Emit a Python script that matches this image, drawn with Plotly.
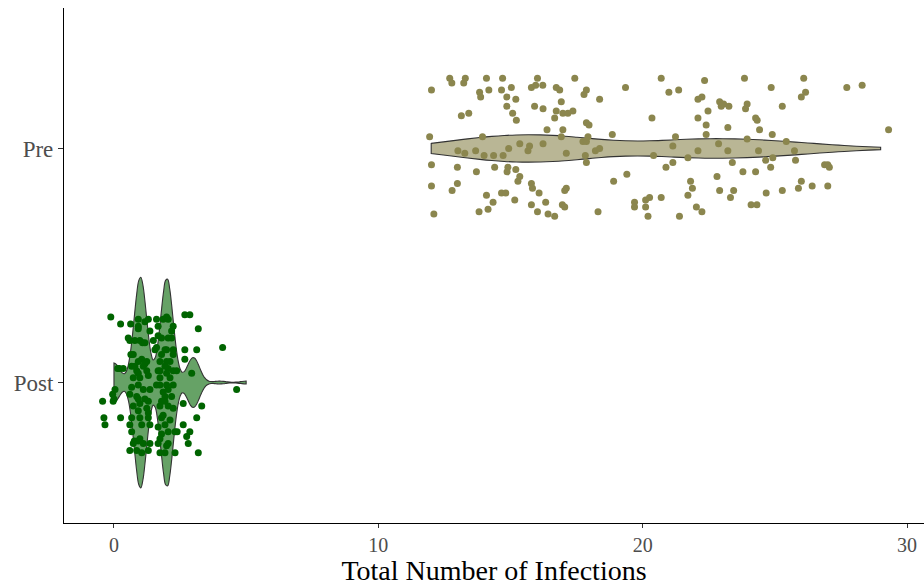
import numpy as np
import plotly.graph_objects as go

# ---------------- data ----------------
group_names = ["Post", "Pre"]
group_positions = [1, 2]

# Pre: jittered point positions (value axis) and vertical jitter offsets
pre_x = [12.01, 12.70, 12.78, 13.29, 13.23, 14.09, 14.70, 13.83, 13.87, 14.18, 14.66, 15.03, 14.86, 15.20,
         14.86, 16.02, 15.79, 15.95, 16.22, 15.91, 16.23, 13.14, 13.42, 15.08, 15.22, 11.94, 13.94, 13.01,
         13.27, 13.68, 14.00, 14.36, 14.72, 14.93, 15.35, 15.66, 15.72, 12.01, 12.99, 13.71, 14.40, 14.90,
         14.87, 15.20, 15.35, 15.28, 12.01, 12.99, 12.79, 14.09, 14.66, 14.82, 15.79, 15.83, 16.08, 15.16,
         14.34, 13.81, 14.15, 12.10, 15.79, 16.02,
         17.43, 16.73, 16.86, 17.87, 17.78, 18.37, 19.35, 20.70, 16.92, 16.73, 16.98, 17.17, 17.36, 16.67,
         17.87, 17.97, 20.35, 16.38, 16.98, 16.92, 18.85, 16.23, 17.74, 17.87, 17.93, 17.11, 17.83, 18.21,
         18.37, 17.87, 20.41, 19.40, 18.90, 17.11, 17.05, 16.33, 16.96, 17.05, 16.42, 16.67, 18.31, 19.69,
         19.69, 20.11, 20.26, 20.11, 20.20, 20.70, 20.88,
         22.34, 23.85, 24.86, 20.99, 21.36, 22.09, 22.24, 22.91, 23.06, 23.26, 22.97, 23.95, 23.89, 25.28,
         22.47, 22.09, 24.27, 24.33, 24.42, 22.40, 22.40, 23.22, 21.24, 24.90, 23.95, 21.14, 22.09, 22.87,
         23.22, 24.38, 21.71, 24.92, 21.14, 23.39, 24.65, 24.84, 22.81, 23.79, 24.27, 21.81, 21.88, 21.71,
         22.91, 23.44, 23.32, 24.67, 25.28, 22.03, 22.24, 24.10, 24.32, 21.39,
         26.09, 27.72, 28.30, 26.16, 26.00, 29.30, 25.43, 25.74, 25.78, 26.88, 27.00, 27.06, 26.00, 25.89,
         26.41, 27.00]
pre_jitter_y = [0.25, 0.30, 0.28, 0.30, 0.28, 0.30, 0.30, 0.24, 0.22, 0.25, 0.25, 0.26, 0.22, 0.21,
                0.18, 0.30, 0.26, 0.27, 0.27, 0.18, 0.17, 0.14, 0.15, 0.15, 0.12, 0.05, 0.05, -0.01,
                -0.02, -0.01, -0.03, -0.03, -0.03, 0.00, 0.02, -0.01, 0.01, -0.07, -0.08, -0.10, -0.08, -0.08,
                -0.10, -0.09, -0.12, -0.14, -0.16, -0.15, -0.18, -0.20, -0.19, -0.19, -0.15, -0.17, -0.19, -0.22,
                -0.23, -0.27, -0.26, -0.28, -0.24, -0.27,
                0.30, 0.26, 0.25, 0.25, 0.23, 0.21, 0.26, 0.30, 0.20, 0.16, 0.15, 0.15, 0.16, 0.13,
                0.11, 0.10, 0.13, 0.08, 0.08, 0.05, 0.06, 0.02, 0.03, 0.03, 0.05, -0.02, -0.03, -0.01,
                0.00, -0.06, -0.03, -0.11, -0.14, -0.17, -0.18, -0.23, -0.24, -0.25, -0.28, -0.29, -0.27, -0.23,
                -0.25, -0.22, -0.21, -0.25, -0.29, -0.21, -0.08,
                0.29, 0.30, 0.26, 0.24, 0.25, 0.21, 0.22, 0.20, 0.19, 0.18, 0.18, 0.19, 0.17, 0.18,
                0.16, 0.13, 0.13, 0.12, 0.08, 0.10, 0.06, 0.09, 0.05, 0.06, 0.04, 0.01, -0.01, 0.02,
                -0.01, -0.01, -0.04, -0.04, -0.06, -0.06, -0.05, -0.08, -0.12, -0.10, -0.10, -0.14, -0.17, -0.20,
                -0.18, -0.18, -0.21, -0.19, -0.18, -0.25, -0.27, -0.24, -0.24, -0.29,
                0.30, 0.26, 0.27, 0.24, 0.22, 0.08, 0.03, -0.01, -0.05, -0.07, -0.07, -0.08, -0.14, -0.17,
                -0.16, -0.16]

# Post: jittered point positions and vertical jitter offsets
post_x = [-0.12, 0.25, 0.63, 0.92, 1.17, 0.92, 1.61, 1.86, 1.99, 1.67, 2.24, 1.36, 0.60, 0.79,
          0.98, 1.08, 1.49, 1.80, 2.18, 1.61, 1.99, 2.24, 0.73, 1.05, 1.24, 1.80, 1.99, 2.24,
          0.20, 0.35, 0.67, 0.86, 1.11, 1.24, 1.74, 2.05, 2.24, 0.73, 0.98, 1.30, 1.74, 2.12,
          0.67, 0.04, -0.05, 0.00, -0.43, 0.92, 1.11, 1.36, 1.74, 1.99, 2.24, 0.86, 1.17, 1.93,
          1.93, 0.98, 1.24, 0.92, 1.74, 2.05, 2.24, -0.38, -0.34, 0.25, 0.67, 0.98, 1.30, 1.80,
          2.12, 0.60, 0.67, 1.67, 1.80, 2.05, 2.31, 0.73, 0.92, 1.11, 1.36, 0.60, 0.86, 1.05,
          1.30, 1.67, 1.99, 1.74, 1.93, 2.31,
          2.68, 2.87, 3.19, 2.18, 1.67, 4.11, 2.68, 3.13, 2.68, 2.94, 4.64, 2.62, 3.32, 3.13,
          2.62, 2.87, 2.75, 2.81, 3.19,
          0.54, 0.14, -0.03, 0.77, 0.64, 0.79, 0.60, 0.73,
          1.30, 2.05, 0.92, 2.05, 1.17, 1.55, 1.93, 0.92, 1.17, 1.74, 1.93, 2.12, 0.92, 1.67,
          1.99, 1.61, 1.86, 2.05, 0.92, 1.30, 1.80, 1.30, 1.86, 1.05, 1.36, 1.93, 0.98, 1.74,
          2.05, 2.37, 2.18, 2.39]
post_jitter_y = [0.28, 0.25, 0.25, 0.27, 0.26, 0.24, 0.27, 0.27, 0.28, 0.24, 0.24, 0.22, 0.18, 0.18,
                 0.18, 0.17, 0.18, 0.19, 0.19, 0.15, 0.14, 0.14, 0.12, 0.10, 0.09, 0.12, 0.09, 0.12,
                 0.06, 0.06, 0.07, 0.05, 0.07, 0.05, 0.05, 0.06, 0.05, 0.02, 0.02, 0.03, 0.02, 0.02,
                 -0.02, -0.03, -0.05, -0.07, -0.08, -0.01, -0.03, -0.03, -0.01, -0.01, -0.01, -0.06, -0.07, -0.06,
                 -0.08, -0.09, -0.11, -0.12, -0.10, -0.10, -0.11, -0.15, -0.18, -0.15, -0.15, -0.15, -0.15, -0.15,
                 -0.16, -0.18, -0.21, -0.19, -0.22, -0.21, -0.21, -0.26, -0.25, -0.26, -0.26, -0.29, -0.29, -0.30,
                 -0.29, -0.26, -0.27, -0.30, -0.30, -0.30,
                 0.29, 0.29, 0.23, 0.22, 0.20, 0.15, 0.14, 0.14, 0.10, 0.04, -0.03, -0.09, -0.10, -0.15,
                 -0.18, -0.21, -0.23, -0.26, -0.30,
                 0.19, 0.06, -0.08, -0.25, 0.12, 0.07, -0.05, -0.10,
                 0.27, 0.27, 0.23, 0.19, 0.17, 0.14, 0.14, 0.09, 0.08, 0.09, 0.07, 0.09, 0.04, 0.05,
                 0.04, -0.01, -0.04, -0.03, -0.07, -0.08, -0.08, -0.13, -0.14, -0.18, -0.18, -0.18, -0.24, -0.24,
                 -0.26, 0.05, -0.06, -0.21]

# Post: underlying integer counts (violin density)
post_levels = [0, 1, 2, 3, 4, 5]
post_counts = [14, 76, 75, 18, 1, 1]

x_ticks = [0, 10, 20, 30]
x_title = "Total Number of Infections"

# ---------------- derived tables ----------------
pre_values = np.round(np.array(pre_x))
post_values = np.repeat(np.array(post_levels, dtype=float), post_counts)


def nrd0(v):
    v = np.asarray(v, dtype=float)
    sd = np.std(v, ddof=1)
    iqr = np.percentile(v, 75) - np.percentile(v, 25)
    lo = min(sd, iqr / 1.34) if iqr > 0 else sd
    return 0.9 * lo * len(v) ** (-0.2)


def max_density(v, bw):
    g = np.linspace(v.min(), v.max(), 512)
    d = np.exp(-0.5 * ((g[:, None] - v[None, :]) / bw) ** 2).sum(axis=1)
    return (d / (len(v) * bw * np.sqrt(2 * np.pi))).max()


bw_pre = nrd0(pre_values)
bw_post = nrd0(post_values)
full_width = 0.9
md_pre = max_density(pre_values, bw_pre)
md_post = max_density(post_values, bw_post)
md_all = max(md_pre, md_post)
w_pre = full_width * md_pre / md_all
w_post = full_width * md_post / md_all

serif = "Liberation Serif, Times New Roman, serif"
line_col = "#333333"

fig = go.Figure()
fig.add_trace(go.Violin(
    x=post_values, y0=group_positions[0], orientation="h", name="Post",
    width=w_post, bandwidth=bw_post, spanmode="hard", scalemode="width",
    fillcolor="rgba(0,100,0,0.6)", line=dict(color=line_col, width=1.1),
    points=False, box_visible=False, meanline_visible=False, showlegend=False,
    hoverinfo="skip"))
fig.add_trace(go.Violin(
    x=pre_values, y0=group_positions[1], orientation="h", name="Pre",
    width=w_pre, bandwidth=bw_pre, spanmode="hard", scalemode="width",
    fillcolor="rgba(139,134,78,0.6)", line=dict(color=line_col, width=1.1),
    points=False, box_visible=False, meanline_visible=False, showlegend=False,
    hoverinfo="skip"))
fig.add_trace(go.Scatter(
    x=post_x, y=group_positions[0] + np.array(post_jitter_y), mode="markers",
    marker=dict(color="#006400", size=7, line=dict(width=0)), showlegend=False))
fig.add_trace(go.Scatter(
    x=pre_x, y=group_positions[1] + np.array(pre_jitter_y), mode="markers",
    marker=dict(color="#8B864E", size=7, line=dict(width=0)), showlegend=False))

fig.update_layout(
    width=924, height=586,
    margin=dict(l=64, r=0, t=8, b=63),
    paper_bgcolor="white", plot_bgcolor="white",
    font=dict(family=serif, color="#4D4D4D"),
    xaxis=dict(range=[-1.89, 30.64], tickvals=x_ticks, ticks="outside", ticklen=4,
               tickcolor=line_col, tickwidth=1, showgrid=False, zeroline=False,
               showline=True, linecolor="black", linewidth=1.2,
               tickfont=dict(size=20, color="#4D4D4D", family=serif),
               title=dict(text=x_title, font=dict(size=28, color="black", family=serif), standoff=9)),
    yaxis=dict(type="linear", range=[0.4, 2.6], tickvals=group_positions, ticktext=group_names,
               ticks="outside", ticklen=5, tickcolor=line_col, tickwidth=1,
               showgrid=False, zeroline=False, showline=True, linecolor="black", linewidth=1.2,
               tickfont=dict(size=23, color="#4D4D4D", family=serif)),
)

fig.write_html("out.html")
